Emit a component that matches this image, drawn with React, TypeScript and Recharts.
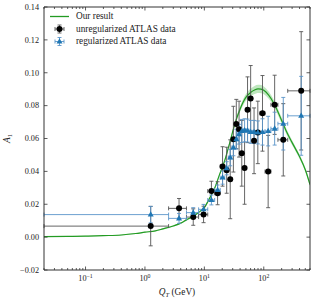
import { ComposedChart, Line, Area, Scatter, ErrorBar, XAxis, YAxis, Legend } from 'recharts'

// Q_T bins (GeV), ATLAS binning
const binEdges = [0, 2.5, 5, 8, 11.4, 14.9, 18.5, 22, 25.5, 29, 32.6, 36.4, 40.4, 44.9, 50.2, 56.4, 63.9, 73.4, 85.4, 105, 132, 173, 253, 600]
const binCenters = [1.25, 3.75, 6.5, 9.7, 13.15, 16.7, 20.25, 23.75, 27.25, 30.8, 34.5, 38.4, 42.65, 47.55, 53.3, 60.15, 68.65, 79.4, 95.2, 118.5, 152.5, 213, 426.5]

const unregA1 = [0.0067, 0.0175, 0.0122, 0.0138, 0.028, 0.0267, 0.043, 0.0407, 0.0352, 0.0596, 0.0688, 0.0657, 0.051, 0.042, 0.0775, 0.0844, 0.0586, 0.0637, 0.0753, 0.0399, 0.0805, 0.0592, 0.089]
const unregErr = [0.012, 0.006, 0.005, 0.005, 0.006, 0.007, 0.012, 0.014, 0.024, 0.02, 0.015, 0.017, 0.02, 0.022, 0.02, 0.02, 0.02, 0.019, 0.023, 0.022, 0.018, 0.022, 0.036]

const regA1 = [0.0137, 0.0114, 0.0149, 0.0169, 0.0226, 0.0287, 0.0362, 0.0419, 0.0484, 0.0545, 0.0596, 0.0626, 0.0646, 0.065, 0.0648, 0.064, 0.064, 0.0637, 0.064, 0.0645, 0.066, 0.069, 0.0738]
const regErr = [0.005, 0.003, 0.003, 0.003, 0.003, 0.003, 0.004, 0.004, 0.005, 0.005, 0.006, 0.006, 0.007, 0.007, 0.007, 0.007, 0.007, 0.007, 0.008, 0.009, 0.01, 0.016, 0.024]

const curveQt = [0.02, 0.05, 0.1, 0.2, 0.4, 0.7, 1, 1.5, 2, 3, 4, 5, 6, 8, 10, 12, 15, 18, 22, 27, 33, 40, 50, 60, 70, 80, 90, 100, 120, 150, 200, 250, 300, 400, 500, 600]
const curveA1 = [0.0003, 0.0004, 0.0006, 0.0009, 0.0013, 0.0022, 0.003, 0.0038, 0.005, 0.0068, 0.0085, 0.0105, 0.012, 0.015, 0.018, 0.023, 0.03, 0.038, 0.0465, 0.058, 0.0695, 0.078, 0.085, 0.088, 0.0895, 0.0902, 0.09, 0.0893, 0.0865, 0.081, 0.071, 0.063, 0.0575, 0.049, 0.041, 0.032]
const curveBand = [0.0002, 0.0002, 0.0002, 0.0002, 0.0003, 0.0003, 0.0003, 0.0003, 0.0004, 0.0004, 0.0004, 0.0005, 0.0005, 0.0005, 0.0006, 0.0006, 0.0007, 0.0008, 0.0009, 0.001, 0.0013, 0.0016, 0.002, 0.0023, 0.0025, 0.0025, 0.0025, 0.0024, 0.0022, 0.002, 0.0018, 0.0016, 0.0015, 0.0013, 0.0012, 0.0011]

const xMajor = [0.1, 1, 10, 100]
const xMinor = [0.02, 0.03, 0.04, 0.05, 0.06, 0.07, 0.08, 0.09, 0.2, 0.3, 0.4, 0.5, 0.6, 0.7, 0.8, 0.9, 2, 3, 4, 5, 6, 7, 8, 9, 20, 30, 40, 50, 60, 70, 80, 90, 200, 300, 400, 500, 600]
const yTicks = [-0.02, 0, 0.02, 0.04, 0.06, 0.08, 0.1, 0.12, 0.14]

const X_MIN = 0.02
const X_MAX = 600
const FONT = '"Liberation Serif", "Times New Roman", serif'
const AXIS = '#333'
const GREEN = '#239b23'
const BLUE = '#1f77b4'

const curveData = curveQt.map((q, i) => ({
  q,
  a: curveA1[i],
  band: [curveA1[i] - curveBand[i], curveA1[i] + curveBand[i]],
}))

const pointRows = (vals: number[], errs: number[]) =>
  binCenters.map((q, i) => ({
    q,
    a: vals[i],
    ey: errs[i],
    ex: [q - Math.max(binEdges[i], X_MIN), Math.min(binEdges[i + 1], X_MAX) - q],
  }))

const unregData = pointRows(unregA1, unregErr)
const regData = pointRows(regA1, regErr)

function XTick(props: any) {
  const { x, y, payload, top } = props
  const v = payload.value
  const major = xMajor.includes(v)
  const len = major ? 3.5 : 2
  const dir = top ? 1 : -1
  const exp = Math.round(Math.log10(v))
  return (
    <g>
      <line x1={x} y1={y} x2={x} y2={y + dir * len} stroke={AXIS} strokeWidth={0.8} />
      {major && !top && (
        <text x={x} y={y + 11} textAnchor="middle" fontFamily={FONT} fontSize={8.2} fill="#222">
          10<tspan dy={-3.5} fontSize={5.8}>{exp < 0 ? '\u2212' + -exp : exp}</tspan>
        </text>
      )}
    </g>
  )
}

function YTick(props: any) {
  const { x, y, payload, right } = props
  const v = payload.value
  const dir = right ? -1 : 1
  const label = (v < 0 ? '\u2212' : '') + Math.abs(v).toFixed(2)
  return (
    <g>
      <line x1={x} y1={y} x2={x + dir * 3.5} y2={y} stroke={AXIS} strokeWidth={0.8} />
      {!right && (
        <text x={x - 5} y={y + 2.8} textAnchor="end" fontFamily={FONT} fontSize={8.2} fill="#222">
          {label}
        </text>
      )}
    </g>
  )
}

const circleShape = (p: any) => <circle cx={p.cx} cy={p.cy} r={3} fill="#000" />
const triangleShape = (p: any) => (
  <path d={`M${p.cx},${p.cy - 3.3}L${p.cx - 3},${p.cy + 2}L${p.cx + 3},${p.cy + 2}Z`} fill={BLUE} />
)

function LegendBox() {
  const rows = [
    { y: 16.5, label: 'Our result' },
    { y: 29, label: 'unregularized ATLAS data' },
    { y: 41.5, label: 'regularized ATLAS data' },
  ]
  return (
    <svg width={313} height={60} style={{ display: 'block', overflow: 'visible' }}>
      <line x1={50} y1={rows[0].y} x2={69} y2={rows[0].y} stroke={GREEN} strokeWidth={1.3} />
      <g stroke="#555" strokeWidth={0.9}>
        <line x1={55} y1={rows[1].y} x2={64} y2={rows[1].y} />
        <line x1={59.5} y1={rows[1].y - 4} x2={59.5} y2={rows[1].y + 4} />
        <line x1={57.5} y1={rows[1].y - 4} x2={61.5} y2={rows[1].y - 4} />
        <line x1={57.5} y1={rows[1].y + 4} x2={61.5} y2={rows[1].y + 4} />
        <line x1={55} y1={rows[1].y - 2} x2={55} y2={rows[1].y + 2} />
        <line x1={64} y1={rows[1].y - 2} x2={64} y2={rows[1].y + 2} />
      </g>
      <circle cx={59.5} cy={rows[1].y} r={3} fill="#000" />
      <g stroke="#5b95c9" strokeWidth={0.9}>
        <line x1={55} y1={rows[2].y} x2={64} y2={rows[2].y} />
        <line x1={59.5} y1={rows[2].y - 4} x2={59.5} y2={rows[2].y + 4} />
        <line x1={57.5} y1={rows[2].y - 4} x2={61.5} y2={rows[2].y - 4} />
        <line x1={57.5} y1={rows[2].y + 4} x2={61.5} y2={rows[2].y + 4} />
        <line x1={55} y1={rows[2].y - 2} x2={55} y2={rows[2].y + 2} />
        <line x1={64} y1={rows[2].y - 2} x2={64} y2={rows[2].y + 2} />
      </g>
      {triangleShape({ cx: 59.5, cy: rows[2].y })}
      {rows.map(r => (
        <text key={r.label} x={76} y={r.y + 2.8} fontFamily={FONT} fontSize={9.3} fill="#222">
          {r.label}
        </text>
      ))}
    </svg>
  )
}

export default function App() {
  return (
    <div style={{ position: 'absolute', left: 0, top: 0, width: 313, height: 300, background: '#fff' }}>
      <ComposedChart width={313} height={300} margin={{ top: 6, right: 2, bottom: 0, left: 0 }}>
        <XAxis
          dataKey="q"
          type="number"
          scale="log"
          domain={[X_MIN, X_MAX]}
          allowDataOverflow
          ticks={[...xMajor, ...xMinor]}
          interval={0}
          tickSize={0}
          tickMargin={0}
          height={30}
          stroke={AXIS}
          tick={(p: any) => <XTick {...p} />}
          label={{
            content: (p: any) => {
              const vb = p.viewBox
              return (
                <text x={vb.x + vb.width / 2} y={vb.y + 25} textAnchor="middle" fontFamily={FONT} fontSize={9.3} fill="#222">
                  <tspan fontStyle="italic">Q</tspan>
                  <tspan fontStyle="italic" fontSize={6.5} dy={2}>T</tspan>
                  <tspan dy={-2}> (GeV)</tspan>
                </text>
              )
            },
          }}
        />
        <XAxis
          xAxisId="top"
          orientation="top"
          dataKey="q"
          type="number"
          scale="log"
          domain={[X_MIN, X_MAX]}
          allowDataOverflow
          ticks={[...xMajor, ...xMinor]}
          interval={0}
          tickSize={0}
          tickMargin={0}
          height={1}
          stroke={AXIS}
          tick={(p: any) => <XTick {...p} top />}
        />
        <YAxis
          type="number"
          domain={[-0.02, 0.14]}
          allowDataOverflow
          ticks={yTicks}
          interval={0}
          tickSize={0}
          tickMargin={0}
          width={44}
          stroke={AXIS}
          tick={(p: any) => <YTick {...p} />}
          label={{
            content: (p: any) => {
              const vb = p.viewBox
              const cx = 10
              const cy = vb.y + vb.height / 2
              return (
                <text x={cx} y={cy} transform={`rotate(-90 ${cx} ${cy})`} textAnchor="middle" fontFamily={FONT} fontSize={9.3} fill="#222">
                  <tspan fontStyle="italic">A</tspan>
                  <tspan fontSize={6.5} dy={2}>1</tspan>
                </text>
              )
            },
          }}
        />
        <YAxis
          yAxisId="r"
          orientation="right"
          type="number"
          domain={[-0.02, 0.14]}
          allowDataOverflow
          ticks={yTicks}
          interval={0}
          tickSize={0}
          tickMargin={0}
          width={1}
          stroke={AXIS}
          tick={(p: any) => <YTick {...p} right />}
        />
        <Legend
          content={() => <LegendBox />}
          verticalAlign="top"
          wrapperStyle={{ left: 0, top: 0, width: 313, height: 0, overflow: 'visible' }}
        />
        <Area
          data={curveData}
          dataKey="band"
          type="monotone"
          stroke="none"
          fill="#7fcf7f"
          fillOpacity={0.5}
          isAnimationActive={false}
          legendType="none"
        />
        <Line
          data={curveData}
          dataKey="a"
          type="monotone"
          stroke={GREEN}
          strokeWidth={1.2}
          dot={false}
          isAnimationActive={false}
        />
        <Scatter data={unregData} dataKey="a" shape={circleShape} isAnimationActive={false}>
          <ErrorBar dataKey="ey" direction="y" width={2} stroke="#555" strokeWidth={0.9} />
          <ErrorBar dataKey="ex" direction="x" width={2} stroke="#555" strokeWidth={0.9} />
        </Scatter>
        <Scatter data={regData} dataKey="a" shape={triangleShape} isAnimationActive={false}>
          <ErrorBar dataKey="ey" direction="y" width={2} stroke="#5b95c9" strokeWidth={0.9} />
          <ErrorBar dataKey="ex" direction="x" width={2} stroke="#5b95c9" strokeWidth={0.9} />
        </Scatter>
      </ComposedChart>
    </div>
  )
}
